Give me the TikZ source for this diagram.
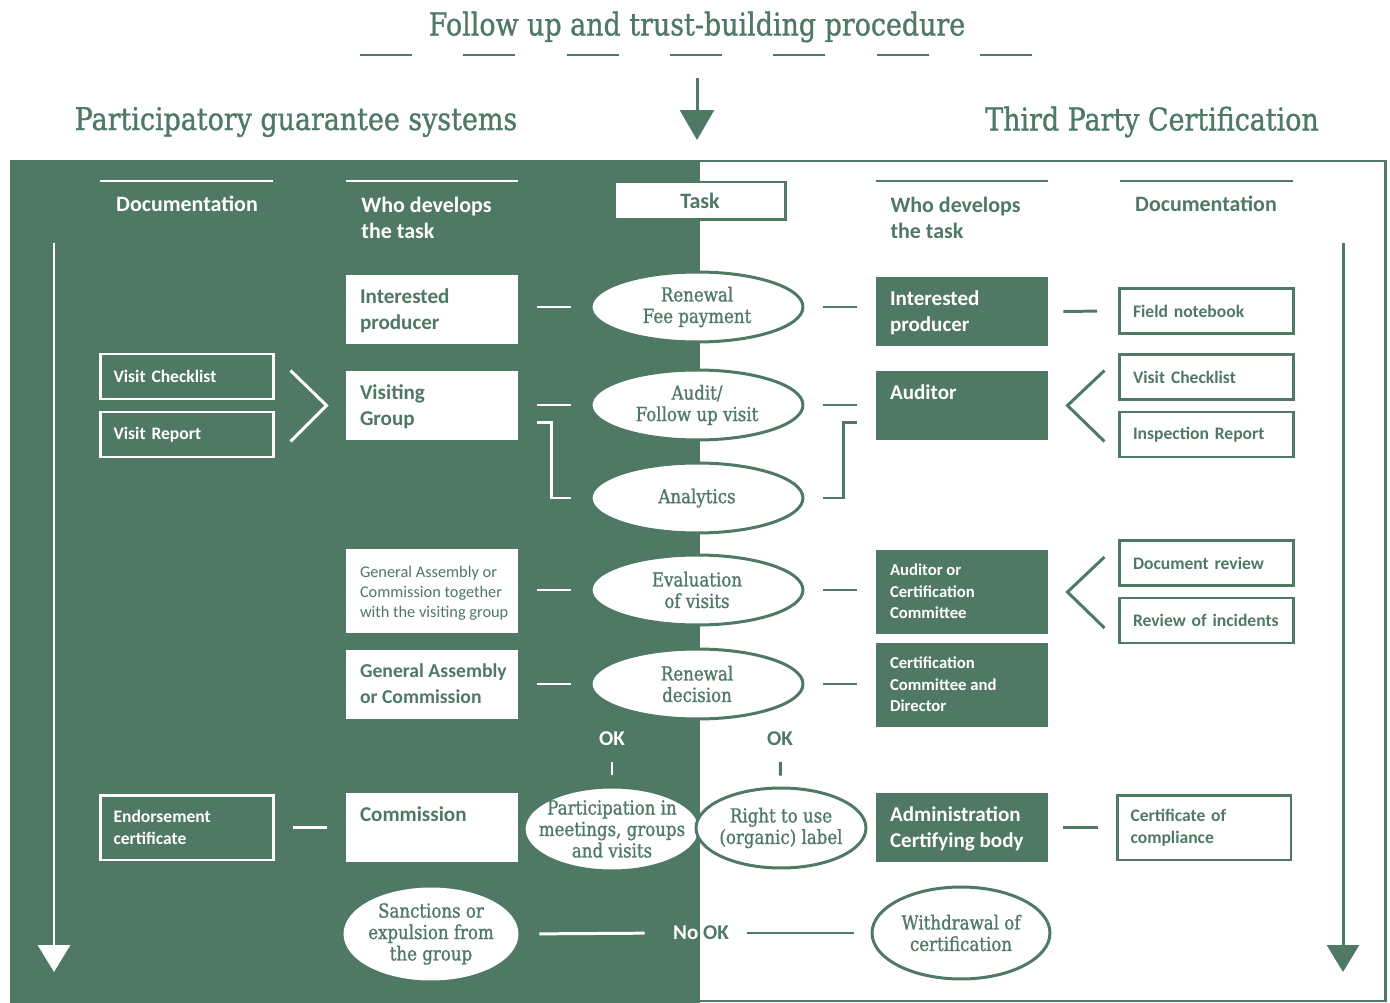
\documentclass[tikz,border=0pt]{standalone}
\usepackage{fontspec}
\setmainfont{Carlito}
\newfontfamily\slab[FakeStretch=0.86,FakeBold=1]{DejaVu Serif}
\usetikzlibrary{shapes,positioning,calc,arrows.meta}
\definecolor{pgsgreen}{RGB}{79,120,101}

\begin{document}
\begin{tikzpicture}
  [x=0.02cm,y=-0.02cm,line width=1.7pt,
   titleT/.style={text=pgsgreen,inner sep=0pt,font=\slab\fontsize{17.8}{20}\selectfont},
   headT/.style={inner sep=0pt,align=left,font=\fontsize{12.5}{14.8}\selectfont\bfseries},
   whoL/.style={fill=white,minimum width=3.44cm,minimum height=1.38cm,inner sep=0pt},
   whoR/.style={whoL,fill=pgsgreen},
   whoT/.style={anchor=north west,align=left,inner xsep=0.28cm,inner ysep=0.28cm,
                font=\fontsize{12}{14.8}\selectfont\bfseries},
   whoS/.style={whoT,font=\fontsize{9.5}{12.2}\selectfont\bfseries},
   taskN/.style={ellipse,draw=pgsgreen,fill=white,minimum width=4.24cm,minimum height=1.4cm,
                 inner xsep=-0.3cm,inner ysep=0pt,align=center,text=pgsgreen,
                 font=\slab\fontsize{11}{12.2}\selectfont},
   docL/.style={draw=white,text=white,minimum height=0.9cm,text width=2.94cm,inner xsep=0.27cm,
                align=left,font=\fontsize{10}{12.5}\selectfont\bfseries},
   docR/.style={docL,draw=pgsgreen,text=pgsgreen},
   okT/.style={inner sep=0pt,font=\fontsize{12}{14}\selectfont\bfseries},
   linkL/.style={shorten <=0.36cm,shorten >=0.38cm},
   linkR/.style={shorten <=0.38cm,shorten >=0.36cm},
   docLink/.style={shorten <=0.28cm,shorten >=0.42cm}]

  \useasboundingbox (0,0) rectangle (1390,1003);

  % background: PGS half in green, third party half framed
  \fill[pgsgreen] (10,160) rectangle (700,1003);
  \draw[pgsgreen] (700,161) -| (1385,1001) -- (700,1001);

  % titles
  \node[titleT] (ttl) at (697,27) {Follow up and trust-building procedure};
  \node[titleT] (pgs) at (296,122) {Participatory guarantee systems};
  \node[titleT] (tpc) at (1152,122) {Third Party Certification};

  \foreach \i in {0,...,6}
    \draw[pgsgreen] (360+103.3*\i,55) -- ++(52,0);

  \coordinate (topA) at (697,78);
  \coordinate (topB) at (697,140);
  \draw[pgsgreen,-{Triangle[width=0.68cm,length=0.6cm]}] (topA) -- (topB);

  % column headers
  \draw[white] (100,181) -- (273,181);
  \draw[white] (346,181) -- (518,181);
  \draw[pgsgreen] (876,181) -- (1048,181);
  \draw[pgsgreen] (1120,181) -- (1293,181);
  \node[headT,text=white] (hdl) at (187,204) {Documentation};
  \node[headT,text=white,anchor=north west] (hwl) at (360,196) {Who develops\\the task};
  \node[headT,text=pgsgreen,anchor=north west] (hwr) at (889,196) {Who develops\\the task};
  \node[headT,text=pgsgreen] (hdr) at (1206,204) {Documentation};
  \node[draw=pgsgreen,fill=white,minimum width=3.44cm,minimum height=0.76cm,headT,
        text=pgsgreen] (task) at (700,201) {Task};

  % time arrows
  \coordinate (flowLa) at (54,243);
  \coordinate (flowLb) at (54,972);
  \coordinate (flowRa) at (1343,243);
  \coordinate (flowRb) at (1343,972);
  \draw[white,-{Triangle[width=0.64cm,length=0.54cm]}] (flowLa) -- (flowLb);
  \draw[pgsgreen,-{Triangle[width=0.64cm,length=0.54cm]}] (flowRa) -- (flowRb);

  % who develops the task (PGS)
  \node[whoL,label={[whoT,text=pgsgreen]north west:Interested\\producer}] (lp1) at (432,309.5) {};
  \node[whoL,label={[whoT,text=pgsgreen]north west:Visiting\\Group}] (lp2) at (432,405.5) {};
  \node[whoL,minimum height=1.68cm,label={[whoS,text=pgsgreen,inner ysep=0.34cm,font=\fontsize{9.3}{11.5}\selectfont]north west:General Assembly or\\Commission together\\with the visiting group}] (lp3) at (432,591) {};
  \node[whoL,label={[whoT,text=pgsgreen,font=\fontsize{11.2}{14.4}\selectfont\bfseries]north west:General Assembly\\or Commission}] (lp4) at (432,684.5) {};
  \node[whoL,label={[whoT,text=pgsgreen]north west:Commission}] (lp5) at (432,827.5) {};

  % who develops the task (third party)
  \node[whoR,label={[whoT,text=white]north west:Interested\\producer}] (rp1) at (962,311.5) {};
  \node[whoR,label={[whoT,text=white]north west:Auditor}] (rp2) at (962,405.5) {};
  \node[whoR,minimum height=1.68cm,label={[whoS,text=white]north west:Auditor or\\Certification\\Committee}] (rp3) at (962,592) {};
  \node[whoR,minimum height=1.68cm,label={[whoS,text=white]north west:Certification\\Committee and\\Director}] (rp4) at (962,685) {};
  \node[whoR,label={[whoT,text=white]north west:Administration\\Certifying body}] (rp5) at (962,827.5) {};

  % tasks
  \node[taskN] (t1) at (697,307) {Renewal\\Fee payment};
  \node[taskN] (t2) at (697,405) {Audit/\\Follow up visit};
  \node[taskN] (t3) at (697,498) {Analytics};
  \node[taskN] (t4) at (697,590) {Evaluation\\of visits};
  \node[taskN] (t5) at (697,684) {Renewal\\decision};

  \node[taskN,minimum width=3.52cm,minimum height=1.68cm] (pa) at (612,829) {Participation in\\meetings, groups\\and visits};
  \node[taskN,minimum width=3.4cm,minimum height=1.6cm] (ru) at (781,828) {Right to use\\(organic) label};
  \node[taskN,draw=white,minimum width=3.44cm,minimum height=1.8cm] (sa) at (431,934) {Sanctions or\\expulsion from\\the group};
  \node[taskN,minimum width=3.56cm,minimum height=1.84cm] (wd) at (961,933) {Withdrawal of\\certification};

  % documentation
  \node[docL] (dl1) at (187,376.5) {Visit Checklist};
  \node[docL] (dl2) at (187,434.5) {Visit Report};
  \node[docL,minimum height=1.3cm] (dl3) at (187,827.5) {Endorsement\\certificate};
  \node[docR] (dr1) at (1206.5,311) {Field notebook};
  \node[docR] (dr2) at (1206.5,377) {Visit Checklist};
  \node[docR] (dr3) at (1206.5,434.5) {Inspection Report};
  \node[docR] (dr4) at (1206.5,563) {Document review};
  \node[docR] (dr5) at (1206.5,620.5) {Review of incidents};
  \node[docR,minimum height=1.3cm] (dr6) at (1204,827.5) {Certificate of\\compliance};

  % OK / No OK
  \node[okT,text=white] (okL) at (612,739) {OK};
  \node[okT,text=pgsgreen] (okR) at (780,739) {OK};
  \node[okT,text=pgsgreen] (nook) at (701,933) {\textcolor{white}{No} OK};

  % links on the PGS side
  \draw[white,linkL] (lp1.east |- t1.west) -- (t1.west);
  \draw[white,linkL] (lp2.east |- t2.west) -- (t2.west);
  \draw[white,linkL] (lp3.east |- t4.west) -- (t4.west);
  \draw[white,linkL] (lp4.east |- t5.west) -- (t5.west);
  \draw[white] ($(lp2.east)+(18,17)$) -| ($(t3.west)+(-38,0)$) -- ($(t3.west)+(-19,0)$);
  \draw[white,shorten <=0.36cm,shorten >=0.36cm] (dl3.east) -- (lp5.west);
  \draw[white] ($(lp2.west)+(-54,-35)$) -- ($(lp2.west)+(-18,0)$) -- ($(lp2.west)+(-54,36)$);
  \draw[white,shorten <=0.29cm,shorten >=0.22cm] (okL) -- (pa);
  \draw[white,shorten <=0.42cm,shorten >=0.54cm] (sa.east) -- (nook.west);

  % links on the third party side
  \draw[pgsgreen,linkR] (t1.east) -- (rp1.west |- t1.east);
  \draw[pgsgreen,linkR] (t2.east) -- (rp2.west |- t2.east);
  \draw[pgsgreen,linkR] (t4.east) -- (rp3.west |- t4.east);
  \draw[pgsgreen,linkR] (t5.east) -- (rp4.west |- t5.east);
  \draw[pgsgreen] ($(rp2.west)+(-18,17)$) -| ($(t3.east)+(39,0)$) -- ($(t3.east)+(19,0)$);
  \draw[pgsgreen,docLink] (rp1.east) -- (dr1.west);
  \draw[pgsgreen,shorten <=0.28cm,shorten >=0.36cm] (rp5.east) -- (dr6.west);
  \draw[pgsgreen] ($(rp2.east)+(55,-35)$) -- ($(rp2.east)+(18,0)$) -- ($(rp2.east)+(55,36)$);
  \draw[pgsgreen] ($(rp3.east)+(55,-35)$) -- ($(rp3.east)+(18,0)$) -- ($(rp3.east)+(55,36)$);
  \draw[pgsgreen,shorten <=0.29cm,shorten >=0.22cm] (okR) -- (ru);
  \draw[pgsgreen,shorten <=0.34cm,shorten >=0.34cm] (nook.east) -- (wd.west);
\end{tikzpicture}
\end{document}
